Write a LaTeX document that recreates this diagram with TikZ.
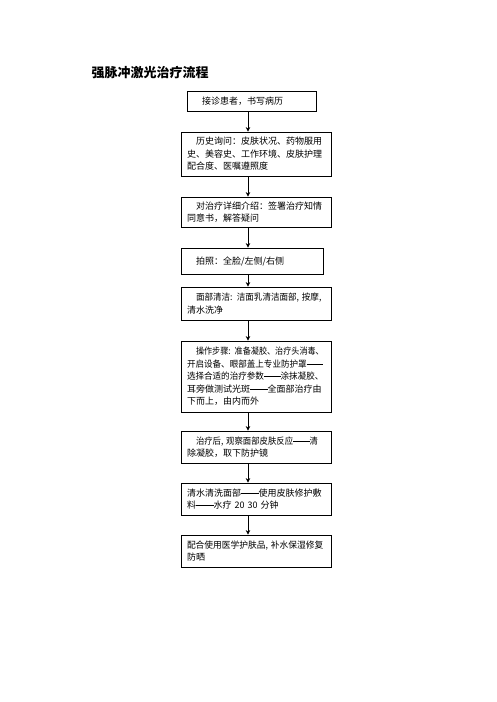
\documentclass[tikz,border=0pt]{standalone}
\usepackage{fontspec}
\usepackage{graphicx}
\newfontfamily\cjk{Noto Sans CJK SC}
\usetikzlibrary{arrows.meta}
\newcommand\sq[2]{\scalebox{#1}[1]{#2}}
\newcommand\dd{\rule[0.33em]{1.95em}{0.06em}}
\begin{document}
\begin{tikzpicture}[x=1pt,y=-1pt,
  box/.style={draw,line width=0.8pt,inner xsep=6pt,inner ysep=3pt,align=left,
    font=\cjk\fontsize{9}{12.5}\selectfont},
  arr/.style={line width=0.8pt,-{Stealth[length=4.5pt,width=4.5pt]}}]
\useasboundingbox[fill=white] (0,0) rectangle (496,702);
\node[anchor=west,font=\cjk\bfseries\fontsize{13}{15}\selectfont] (title) at (88,73) {强脉冲激光治疗流程};
\node[box,text width=117pt,minimum height=20pt] (b1) at (251.5,101) {\hspace*{1em}接诊患者，书写病历};
\node[box,text width=138pt,minimum height=44pt] (b2) at (256,154) {\hspace*{1em}历史询问：皮肤状况、药物服用\\史、美容史、工作环境、皮肤护理\\配合度、医嘱遵照度};
\node[box,text width=138pt,minimum height=30pt] (b3) at (256,212) {\hspace*{1em}对治疗详细介绍：签署治疗知情\\同意书，解答疑问};
\node[box,text width=130pt,minimum height=26pt] (b4) at (252,261) {\hspace*{1em}拍照：全脸/左侧/右侧};
\node[box,text width=138pt,minimum height=33pt] (b5) at (256,303.5) {\hspace*{1em}\sq{0.95}{面部清洁: 洁面乳清洁面部, 按摩,}\\清水洗净};
\node[box,text width=138pt,minimum height=71pt] (b6) at (256,376.5) {\hspace*{1em}\sq{0.9}{操作步骤: 准备凝胶、治疗头消毒、}\\\sq{0.95}{开启设备、眼部盖上专业防护罩\dd}\\\sq{0.95}{选择合适的治疗参数\dd 涂抹凝胶、}\\\mbox{耳旁做测试光斑\dd 全面部治疗由}\\下而上，由内而外};
\node[box,text width=138pt,minimum height=32pt] (b7) at (256,447) {\hspace*{1em}\sq{0.93}{治疗后, 观察面部皮肤反应\dd 清}\\除凝胶，取下防护镜};
\node[box,text width=138pt,minimum height=32pt] (b8) at (256,499) {\mbox{清水清洗面部\dd 使用皮肤修护敷}\\\mbox{料\dd 水疗 20 30 分钟}};
\node[box,text width=138pt,minimum height=32pt] (b9) at (256,551) {\sq{0.97}{配合使用医学护肤品, 补水保湿修复}\\防晒};
\coordinate (ax) at (248,0);
\foreach \a/\b in {b1/b2,b2/b3,b3/b4,b4/b5,b5/b6,b6/b7,b7/b8,b8/b9}
  \draw[arr] (\a.south -| ax) -- (\b.north -| ax);
\end{tikzpicture}
\end{document}
